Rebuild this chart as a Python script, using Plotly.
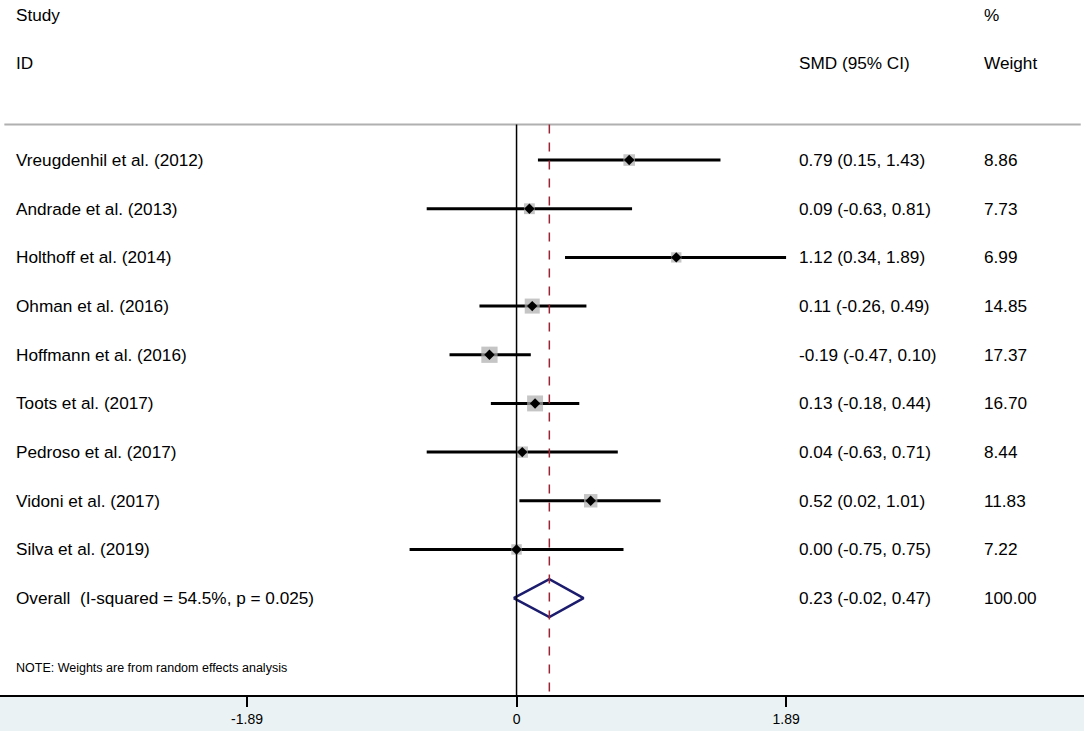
import plotly.graph_objects as go

studies = ["Vreugdenhil et al. (2012)", "Andrade et al. (2013)", "Holthoff et al. (2014)",
           "Ohman et al. (2016)", "Hoffmann et al. (2016)", "Toots et al. (2017)",
           "Pedroso et al. (2017)", "Vidoni et al. (2017)", "Silva et al. (2019)"]
smd = [0.79, 0.09, 1.12, 0.11, -0.19, 0.13, 0.04, 0.52, 0.00]
lower = [0.15, -0.63, 0.34, -0.26, -0.47, -0.18, -0.63, 0.02, -0.75]
upper = [1.43, 0.81, 1.89, 0.49, 0.10, 0.44, 0.71, 1.01, 0.75]
weights = [8.86, 7.73, 6.99, 14.85, 17.37, 16.70, 8.44, 11.83, 7.22]
overall_label = "Overall  (I-squared = 54.5%, p = 0.025)"
overall_est, overall_lo, overall_hi = 0.23, -0.02, 0.47
overall_weight = "100.00"
tick_vals = [-1.89, 0, 1.89]
tick_text = ["-1.89", "0", "1.89"]

FONT = "Liberation Sans, Arial, sans-serif"
NARROW = "Liberation Sans Narrow, Arial Narrow, Liberation Sans, sans-serif"

rows = list(range(len(studies)))
overall_row = len(studies)
y_bottom = 10.99

fig = go.Figure()

# CI lines
xs, ys = [], []
for r, lo, hi in zip(rows, lower, upper):
    xs += [lo, hi, None]
    ys += [r, r, None]
fig.add_trace(go.Scatter(x=xs, y=ys, mode="lines", line=dict(color="black", width=3),
                         hoverinfo="skip", showlegend=False))

# weight squares
fig.add_trace(go.Scatter(x=smd, y=rows, mode="markers",
                         marker=dict(symbol="square", color="#adadad",
                                     size=[3.9 * w ** 0.5 for w in weights],
                                     line=dict(width=0)),
                         hoverinfo="skip", showlegend=False))
# point estimates
fig.add_trace(go.Scatter(x=smd, y=rows, mode="markers",
                         marker=dict(symbol="diamond", color="black", size=8),
                         hoverinfo="skip", showlegend=False))

# overall diamond
h = 0.39
fig.add_trace(go.Scatter(
    x=[overall_lo, overall_est, overall_hi, overall_est, overall_lo],
    y=[overall_row, overall_row - h, overall_row, overall_row + h, overall_row],
    mode="lines", line=dict(color="#1c1c6e", width=2.5), hoverinfo="skip", showlegend=False))

shapes = [
    dict(type="line", xref="paper", yref="y", x0=0.004, x1=0.997, y0=-0.73, y1=-0.73,
         line=dict(color="#b0b0b0", width=2)),
    dict(type="line", xref="x", yref="y", x0=0, x1=0, y0=-0.73, y1=y_bottom,
         line=dict(color="black", width=1.5)),
    dict(type="line", xref="x", yref="y", x0=overall_est, x1=overall_est, y0=-0.73, y1=y_bottom,
         line=dict(color="#9b2335", width=1.5, dash="dash")),
]

ann = []
def txt(x, y, s, size=17.2, font=FONT):
    ann.append(dict(x=x, y=y, xref="paper", yref="y", text=s, showarrow=False,
                    xanchor="left", yanchor="middle", font=dict(size=size, family=font, color="black")))

x_name, x_smd, x_w = 0.0130, 0.7352, 0.9060
txt(x_name, -2.98, "Study")
txt(x_name, -1.99, "ID")
txt(x_smd, -1.99, "SMD (95% CI)")
txt(x_w, -2.98, "%")
txt(x_w, -1.99, "Weight")
for r, s, m, lo, hi, w in zip(rows, studies, smd, lower, upper, weights):
    txt(x_name, r, s)
    txt(x_smd, r, f"{m:.2f} ({lo:.2f}, {hi:.2f})")
    txt(x_w, r, f"{w:.2f}")
txt(x_name, overall_row, overall_label)
txt(x_smd, overall_row, f"{overall_est:.2f} ({overall_lo:.2f}, {overall_hi:.2f})")
txt(x_w, overall_row, overall_weight)
txt(x_name, 10.44, "NOTE: Weights are from random effects analysis", size=12.5, font=NARROW)

fig.update_layout(
    width=1084, height=731,
    margin=dict(l=0, r=0, t=0, b=36),
    paper_bgcolor="#eaf2f3", plot_bgcolor="white",
    shapes=shapes, annotations=ann,
    xaxis=dict(range=[-3.622, 3.979], tickvals=tick_vals, ticktext=tick_text,
               ticks="outside", ticklen=10, tickwidth=1.5, tickcolor="black",
               showline=True, linecolor="black", linewidth=2, showgrid=False, zeroline=False,
               tickfont=dict(size=14, family=NARROW, color="black"), fixedrange=True),
    yaxis=dict(range=[y_bottom, -3.288], visible=False, showgrid=False, zeroline=False, fixedrange=True),
)

fig.write_html("out.html", config={"displayModeBar": False},
               post_script="document.body.style.margin='0px';document.body.style.overflow='hidden';")
